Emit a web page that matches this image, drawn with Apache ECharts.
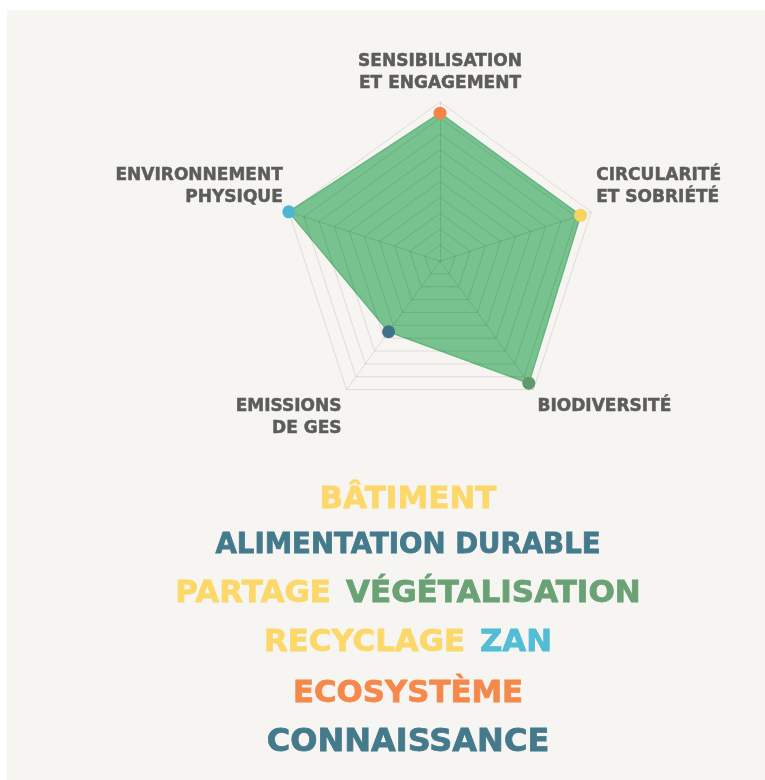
<!DOCTYPE html>
<html>
<head>
<meta charset="utf-8">
<script src="https://cdn.jsdelivr.net/npm/echarts@6/dist/echarts.min.js"></script>
<style>
  html, body { margin: 0; padding: 0; background: #ffffff; }
  #panel { position: absolute; left: 7px; top: 10px; right: 0; bottom: 0; background: #f7f5f2; }
  #chart { position: absolute; left: 0; top: 0; width: 765px; height: 780px; }
</style>
</head>
<body>
<div id="panel"></div>
<div id="chart"></div>
<script>
// Radar axes, listed counter-clockwise from the top (ECharts order)
const indicatorNames = [
  'SENSIBILISATION\nET ENGAGEMENT',
  'ENVIRONNEMENT\nPHYSIQUE',
  'EMISSIONS\nDE GES',
  'BIODIVERSITÉ',
  'CIRCULARITÉ\nET SOBRIÉTÉ'
];
const scoreMax = 100;
const scores = [93, 100, 55, 95, 93];
const pointColors = ['#f4834a', '#4bb7d3', '#3f7189', '#5f9a6d', '#f9d45f'];

// Keyword lines under the radar: each line is a list of [word, colour key]
const keywordLines = [
  [['BÂTIMENT', 'yellow']],
  [['ALIMENTATION DURABLE', 'teal']],
  [['PARTAGE', 'yellow'], ['VÉGÉTALISATION', 'green']],
  [['RECYCLAGE', 'yellow'], ['ZAN', 'cyan']],
  [['ECOSYSTÈME', 'orange']],
  [['CONNAISSANCE', 'teal']]
];
const keywordColors = {
  yellow: '#fcd86a',
  teal: '#447a8c',
  green: '#6aa275',
  cyan: '#52bdd5',
  orange: '#f5894b'
};

const radarCenter = [440, 261];
const radarRadius = 159;

// Indicator label placement relative to each outer vertex
const labelPlacement = [
  { align: 'center', vAlign: 'bottom', dx: 0, dy: -7 },
  { align: 'right', vAlign: 'bottom', dx: -6, dy: -3 },
  { align: 'right', vAlign: 'top', dx: -5, dy: 6 },
  { align: 'left', vAlign: 'top', dx: 4, dy: 6 },
  { align: 'left', vAlign: 'bottom', dx: 5, dy: -3 }
];
const keywordCenterX = 408;
const keywordLineY = [500, 546, 594, 643, 694, 743];
const keywordFontSizes = [31, 27.6, 31, 30.8, 30.8, 32];

const fontFamily = '"DejaVu Sans"';
const labelFont = 'bold 17px ' + fontFamily;

const chart = echarts.init(document.getElementById('chart'), null, { renderer: 'canvas' });

const graphics = [];

// Indicator names around the radar
indicatorNames.forEach(function (name, i) {
  const ang = Math.PI / 2 + i * 2 * Math.PI / indicatorNames.length;
  const vx = radarCenter[0] + radarRadius * Math.cos(ang);
  const vy = radarCenter[1] - radarRadius * Math.sin(ang);
  const p = labelPlacement[i];
  graphics.push({
    type: 'text',
    x: vx + p.dx,
    y: vy + p.dy,
    silent: true,
    style: {
      text: name,
      font: labelFont,
      fill: '#5c5c5c',
      stroke: '#5c5c5c',
      lineWidth: 0.5,
      lineHeight: 22,
      align: p.align,
      verticalAlign: p.vAlign
    }
  });
});

// Coloured keyword lines
keywordLines.forEach(function (line, i) {
  const size = keywordFontSizes[i];
  const rich = { sp: { width: 15 } };
  Object.keys(keywordColors).forEach(function (k) {
    rich[k] = {
      fill: keywordColors[k],
      stroke: keywordColors[k],
      lineWidth: 0.8,
      fontFamily: fontFamily,
      fontWeight: 'bold',
      fontSize: size
    };
  });
  const text = line.map(function (w) { return '{' + w[1] + '|' + w[0] + '}'; }).join('{sp| }');
  graphics.push({
    type: 'text',
    x: keywordCenterX,
    y: keywordLineY[i],
    silent: true,
    style: {
      text: text,
      rich: rich,
      font: 'bold ' + size + 'px ' + fontFamily,
      align: 'center',
      verticalAlign: 'middle'
    }
  });
});

chart.setOption({
  animation: false,
  backgroundColor: 'transparent',
  radar: {
    z: 3,
    center: radarCenter,
    radius: radarRadius,
    shape: 'polygon',
    splitNumber: 10,
    indicator: indicatorNames.map(function (n) { return { name: n, max: scoreMax, min: 0 }; }),
    axisName: { show: false },
    axisLine: { lineStyle: { color: 'rgba(0,0,0,0.1)', width: 1 } },
    splitLine: { lineStyle: { color: 'rgba(0,0,0,0.1)', width: 1 } },
    splitArea: { show: false },
    axisTick: { show: false },
    axisLabel: { show: false }
  },
  // Polar system sharing the radar's centre and radius, used to place the coloured vertex dots
  polar: { center: radarCenter, radius: radarRadius },
  angleAxis: { type: 'value', min: 0, max: indicatorNames.length, startAngle: 90, clockwise: false, show: false },
  radiusAxis: { type: 'value', min: 0, max: scoreMax, show: false },
  graphic: graphics,
  series: [
    {
      type: 'radar',
      z: 2,
      silent: true,
      symbol: 'none',
      lineStyle: { color: 'rgba(90,172,116,0.9)', width: 1.5 },
      areaStyle: { color: 'rgba(96,184,124,0.85)', opacity: 1 },
      data: [{ value: scores }]
    },
    {
      type: 'scatter',
      coordinateSystem: 'polar',
      z: 5,
      silent: true,
      symbol: 'circle',
      symbolSize: 13,
      itemStyle: { opacity: 1 },
      data: scores.map(function (v, i) {
        return { value: [v, i], itemStyle: { color: pointColors[i], opacity: 1 } };
      })
    }
  ]
});
</script>
</body>
</html>
